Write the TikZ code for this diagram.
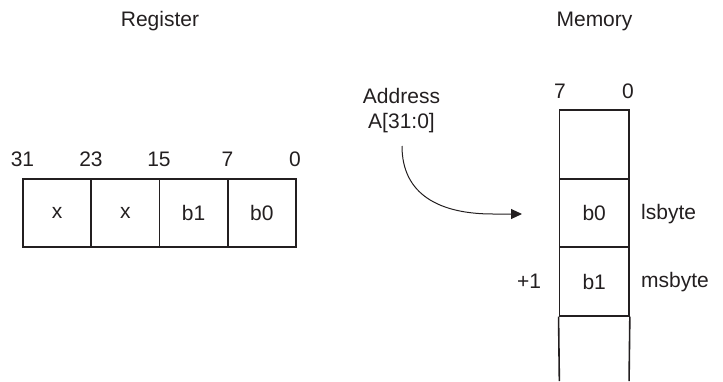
\documentclass[tikz,border=0pt]{standalone}
\usepackage{fontspec}
\setmainfont{Liberation Sans}
\usetikzlibrary{arrows.meta}
\definecolor{ink}{RGB}{35,31,32}
\begin{document}
\begin{tikzpicture}[x=1pt,y=-1pt,
  txt/.style={inner sep=0pt,text=ink,font=\fontsize{21}{25}\selectfont},
  regcell/.style={draw=ink,line width=1.6pt,minimum width=68.3pt,minimum height=68pt,inner sep=0pt,text=ink,font=\fontsize{21}{25}\selectfont},
  memcell/.style={draw=ink,line width=1.6pt,minimum width=69.7pt,minimum height=68.5pt,inner sep=0pt,text=ink,font=\fontsize{21}{25}\selectfont}]
\useasboundingbox (0,0) rectangle (723,381);
% titles
\node[txt] (regt) at (160,21) {Register};
\node[txt] (memt) at (594.5,21) {Memory};
% register
\node[regcell] (r3) at (57,213) {x};
\node[regcell] (r2) at (125.3,213) {x};
\node[regcell] (r1) at (193.6,213) {b1};
\node[regcell] (r0) at (261.9,213) {b0};
\node[txt] (b31) at (22.5,159.5) {31};
\node[txt] (b23) at (91,159.5) {23};
\node[txt] (b15) at (159,159.5) {15};
\node[txt] (b7) at (227.5,159.5) {7};
\node[txt] (b0) at (295,159.5) {0};
% memory
\node[memcell] (m0) at (594.2,144.5) {};
\node[memcell] (m1) at (594.2,213) {b0};
\node[memcell] (m2) at (594.2,281.5) {b1};
\coordinate (m3l) at (559.35,381);
\coordinate (m3r) at (629.05,381);
\draw[draw=ink,line width=1.6pt] (m2.south west) -- (m3l) (m2.south east) -- (m3r);
\node[txt] (mb7) at (560,91.5) {7};
\node[txt] (mb0) at (628,91.5) {0};
\node[txt,anchor=west] (ls) at (641,214) {lsbyte};
\node[txt,anchor=west] (ms) at (641,282) {msbyte};
\node[txt] (p1) at (529,281) {+1};
% address
\node[txt,align=center] (addr) at (401.5,110.5) {Address\\A[31:0]};
\coordinate (tip) at (522,214);
\draw[draw=ink,line width=1pt,-{Triangle[length=11pt,width=10pt]}] (402,146) .. controls (402,195) and (440,214) .. (493,214) -- (tip);
\end{tikzpicture}
\end{document}
